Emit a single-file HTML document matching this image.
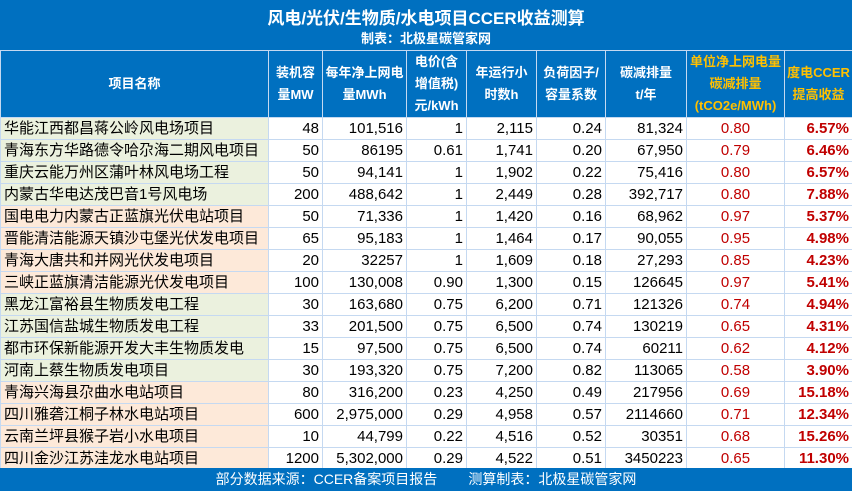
<!DOCTYPE html>
<html><head><meta charset="utf-8"><style>
body{margin:0;width:852px;height:491px;overflow:hidden;background:#fff;font-family:"Liberation Sans","Noto Sans CJK SC",sans-serif;}
.top{position:absolute;left:0;top:0;width:852px;height:50px;background:#0070c0;color:#fff;}
.t1{position:absolute;left:0;width:852px;top:4px;text-align:center;font-size:17px;font-weight:bold;}
.t2{position:absolute;left:0;width:852px;top:28px;text-align:center;font-size:13px;font-weight:bold;}
table{position:absolute;left:0;top:50px;border-collapse:collapse;table-layout:fixed;width:852px;}
td{border:1px solid #c5d9f1;padding:0 3px;font-size:15px;height:21px;line-height:21px;text-align:right;white-space:nowrap;overflow:hidden;color:#000;}
th{background:#0070c0;color:#fff;font-size:13px;font-weight:bold;border:1px solid #c5d9f1;height:64px;line-height:22px;padding:0;white-space:nowrap;overflow:hidden;}
th.y{color:#ffc000;}
td.n{text-align:left;}
.g td.n{background:#ebf1de}.o td.n{background:#fde9d9}
td.r{color:#c00000;text-align:center;}
td.b{color:#c00000;font-weight:bold;}
.foot{position:absolute;left:0;top:468px;width:852px;height:23px;background:#0070c0;color:#fff;font-size:14px;text-align:center;line-height:23px;}
</style></head><body>
<div class="top"><div class="t1">风电/光伏/生物质/水电项目CCER收益测算</div><div class="t2">制表：北极星碳管家网</div></div>
<table>
<colgroup><col style="width:268px"><col style="width:54px"><col style="width:84px"><col style="width:60px"><col style="width:70px"><col style="width:69px"><col style="width:81px"><col style="width:98px"><col style="width:68px"></colgroup>
<tr><th>项目名称</th><th>装机容<br>量MW</th><th>每年净上网电<br>量MWh</th><th>电价(含<br>增值税)<br>元/kWh</th><th>年运行小<br>时数h</th><th>负荷因子/<br>容量系数</th><th>碳减排量<br>t/年</th><th class="y">单位净上网电量<br>碳减排量<br>(tCO2e/MWh)</th><th class="y">度电CCER<br>提高收益</th></tr>
<tr class="g"><td class="n">华能江西都昌蒋公岭风电场项目</td><td>48</td><td>101,516</td><td>1</td><td>2,115</td><td>0.24</td><td>81,324</td><td class="r">0.80</td><td class="b">6.57%</td></tr>
<tr class="g"><td class="n">青海东方华路德令哈尕海二期风电项目</td><td>50</td><td>86195</td><td>0.61</td><td>1,741</td><td>0.20</td><td>67,950</td><td class="r">0.79</td><td class="b">6.46%</td></tr>
<tr class="g"><td class="n">重庆云能万州区蒲叶林风电场工程</td><td>50</td><td>94,141</td><td>1</td><td>1,902</td><td>0.22</td><td>75,416</td><td class="r">0.80</td><td class="b">6.57%</td></tr>
<tr class="g"><td class="n">内蒙古华电达茂巴音1号风电场</td><td>200</td><td>488,642</td><td>1</td><td>2,449</td><td>0.28</td><td>392,717</td><td class="r">0.80</td><td class="b">7.88%</td></tr>
<tr class="o"><td class="n">国电电力内蒙古正蓝旗光伏电站项目</td><td>50</td><td>71,336</td><td>1</td><td>1,420</td><td>0.16</td><td>68,962</td><td class="r">0.97</td><td class="b">5.37%</td></tr>
<tr class="o"><td class="n">晋能清洁能源天镇沙屯堡光伏发电项目</td><td>65</td><td>95,183</td><td>1</td><td>1,464</td><td>0.17</td><td>90,055</td><td class="r">0.95</td><td class="b">4.98%</td></tr>
<tr class="o"><td class="n">青海大唐共和并网光伏发电项目</td><td>20</td><td>32257</td><td>1</td><td>1,609</td><td>0.18</td><td>27,293</td><td class="r">0.85</td><td class="b">4.23%</td></tr>
<tr class="o"><td class="n">三峡正蓝旗清洁能源光伏发电项目</td><td>100</td><td>130,008</td><td>0.90</td><td>1,300</td><td>0.15</td><td>126645</td><td class="r">0.97</td><td class="b">5.41%</td></tr>
<tr class="g"><td class="n">黑龙江富裕县生物质发电工程</td><td>30</td><td>163,680</td><td>0.75</td><td>6,200</td><td>0.71</td><td>121326</td><td class="r">0.74</td><td class="b">4.94%</td></tr>
<tr class="g"><td class="n">江苏国信盐城生物质发电工程</td><td>33</td><td>201,500</td><td>0.75</td><td>6,500</td><td>0.74</td><td>130219</td><td class="r">0.65</td><td class="b">4.31%</td></tr>
<tr class="g"><td class="n">都市环保新能源开发大丰生物质发电</td><td>15</td><td>97,500</td><td>0.75</td><td>6,500</td><td>0.74</td><td>60211</td><td class="r">0.62</td><td class="b">4.12%</td></tr>
<tr class="g"><td class="n">河南上蔡生物质发电项目</td><td>30</td><td>193,320</td><td>0.75</td><td>7,200</td><td>0.82</td><td>113065</td><td class="r">0.58</td><td class="b">3.90%</td></tr>
<tr class="o"><td class="n">青海兴海县尕曲水电站项目</td><td>80</td><td>316,200</td><td>0.23</td><td>4,250</td><td>0.49</td><td>217956</td><td class="r">0.69</td><td class="b">15.18%</td></tr>
<tr class="o"><td class="n">四川雅砻江桐子林水电站项目</td><td>600</td><td>2,975,000</td><td>0.29</td><td>4,958</td><td>0.57</td><td>2114660</td><td class="r">0.71</td><td class="b">12.34%</td></tr>
<tr class="o"><td class="n">云南兰坪县猴子岩小水电项目</td><td>10</td><td>44,799</td><td>0.22</td><td>4,516</td><td>0.52</td><td>30351</td><td class="r">0.68</td><td class="b">15.26%</td></tr>
<tr class="o"><td class="n">四川金沙江苏洼龙水电站项目</td><td>1200</td><td>5,302,000</td><td>0.29</td><td>4,522</td><td>0.51</td><td>3450223</td><td class="r">0.65</td><td class="b">11.30%</td></tr>
</table>
<div class="foot">部分数据来源：CCER备案项目报告 &nbsp;&nbsp;&nbsp;&nbsp;&nbsp;&nbsp;&nbsp;测算制表：北极星碳管家网</div>
</body></html>
